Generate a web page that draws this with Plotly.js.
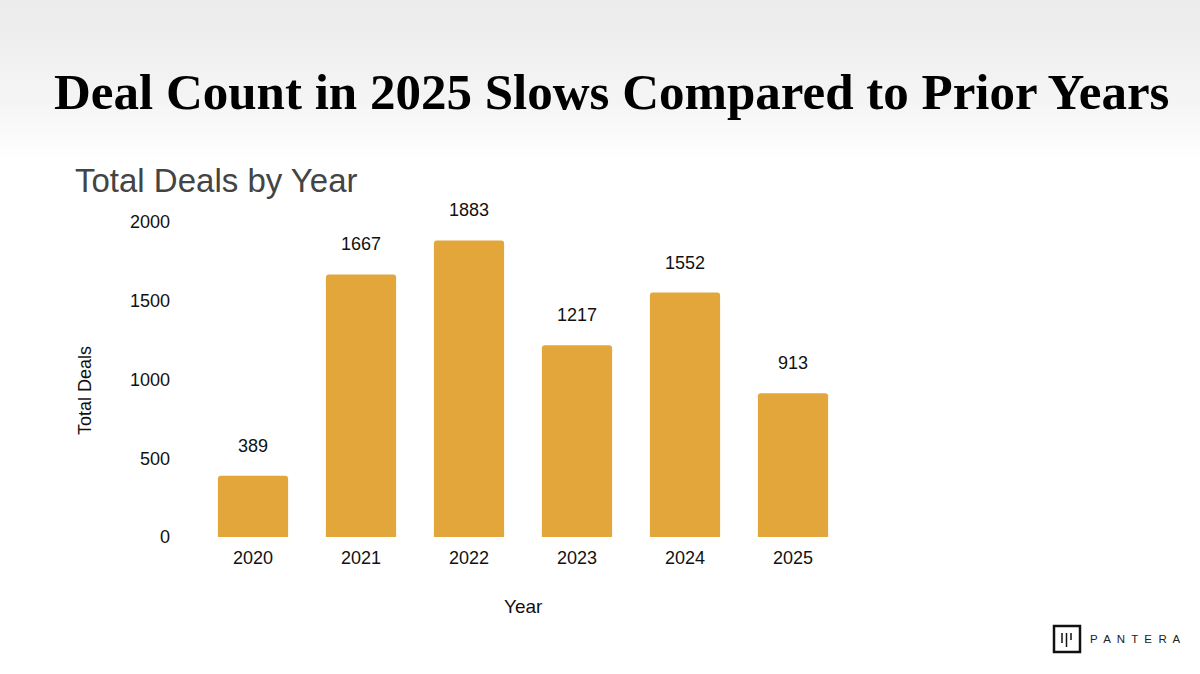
<!DOCTYPE html>
<html><head><meta charset="utf-8">
<script src="https://cdn.plot.ly/plotly-3.0.1.min.js"></script>
<style>
html,body{margin:0;padding:0;background:#fff;}
#bg{position:absolute;left:0;top:0;width:1200px;height:160px;background:linear-gradient(#ebebeb,#f5f5f5 65%,#fff);}
#chart{position:absolute;left:0;top:0;width:1200px;height:674px;}
</style></head>
<body><div id="bg"></div><div id="chart"></div>
<script>
const years = ['2020','2021','2022','2023','2024','2025'];
const deals = [389, 1667, 1883, 1217, 1552, 913];
const yTicks = [0, 500, 1000, 1500, 2000];

const W = 1200, H = 674;
const px = x => x / W, py = y => 1 - y / H;
const SANS = 'Liberation Sans, Arial, sans-serif';

const anns = years.map((yr, i) => ({
  x: i, y: deals[i], xref: 'x', yref: 'y', text: String(deals[i]),
  showarrow: false, yanchor: 'middle', yshift: 30,
  font: {family: SANS, size: 18, color: '#111'}
}));
anns.push({x: px(611), y: py(92), xref: 'paper', yref: 'paper', text: '<b>Deal Count in 2025 Slows Compared to Prior Years</b>',
  showarrow: false, xanchor: 'center', yanchor: 'middle',
  font: {family: 'Liberation Serif, serif', size: 51, color: '#000'}});
anns.push({x: px(73), y: py(180), xref: 'paper', yref: 'paper', text: 'Total Deals by Year',
  showarrow: false, xanchor: 'left', yanchor: 'middle',
  font: {family: SANS, size: 33, color: '#444'}});
anns.push({x: px(85), y: py(391), xref: 'paper', yref: 'paper', text: 'Total Deals', textangle: -90,
  showarrow: false, xanchor: 'center', yanchor: 'middle',
  font: {family: SANS, size: 18, color: '#111'}});
anns.push({x: px(523), y: py(606), xref: 'paper', yref: 'paper', text: 'Year',
  showarrow: false, xanchor: 'center', yanchor: 'middle',
  font: {family: SANS, size: 19, color: '#111'}});
anns.push({x: px(1088), y: py(639), xref: 'paper', yref: 'paper', text: 'P  A  N  T  E  R  A',
  showarrow: false, xanchor: 'left', yanchor: 'middle',
  font: {family: SANS, size: 11.5, color: '#222'}});

const shapes = [
  {type: 'rect', xref: 'paper', yref: 'paper', x0: px(1054), x1: px(1080), y0: py(652), y1: py(626), line: {color: '#111', width: 2.5}},
  {type: 'line', xref: 'paper', yref: 'paper', x0: px(1062), x1: px(1062), y0: py(633), y1: py(643), line: {color: '#111', width: 1.5}},
  {type: 'line', xref: 'paper', yref: 'paper', x0: px(1066.5), x1: px(1066.5), y0: py(633), y1: py(647), line: {color: '#111', width: 1.5}},
  {type: 'line', xref: 'paper', yref: 'paper', x0: px(1071), x1: px(1071), y0: py(633), y1: py(640), line: {color: '#111', width: 1.5}}
];

const trace = {
  type: 'bar', x: years, y: deals,
  marker: {color: '#E2A63A'}, hoverinfo: 'skip'
};

const layout = {
  width: W, height: H,
  margin: {l: 0, r: 0, t: 0, b: 0},
  paper_bgcolor: 'rgba(0,0,0,0)', plot_bgcolor: 'rgba(0,0,0,0)',
  bargap: 0.35, barcornerradius: 3,
  showlegend: false,
  xaxis: {domain: [px(199), px(847)], type: 'category', range: [-0.5, years.length - 0.5], autorange: false,
    showgrid: false, zeroline: false, showline: false,
    ticks: '', ticklabelstandoff: 8,
    tickfont: {family: SANS, size: 18, color: '#111'}},
  yaxis: {domain: [py(537), py(222)], range: [0, 2000], autorange: false, showgrid: false, zeroline: false, showline: false,
    tickvals: yTicks, ticktext: yTicks.map(String), ticks: '', ticklabelstandoff: 28,
    tickfont: {family: SANS, size: 18, color: '#111'}},
  annotations: anns, shapes: shapes
};

Plotly.newPlot('chart', [trace], layout, {staticPlot: true, displayModeBar: false});
</script></body></html>
